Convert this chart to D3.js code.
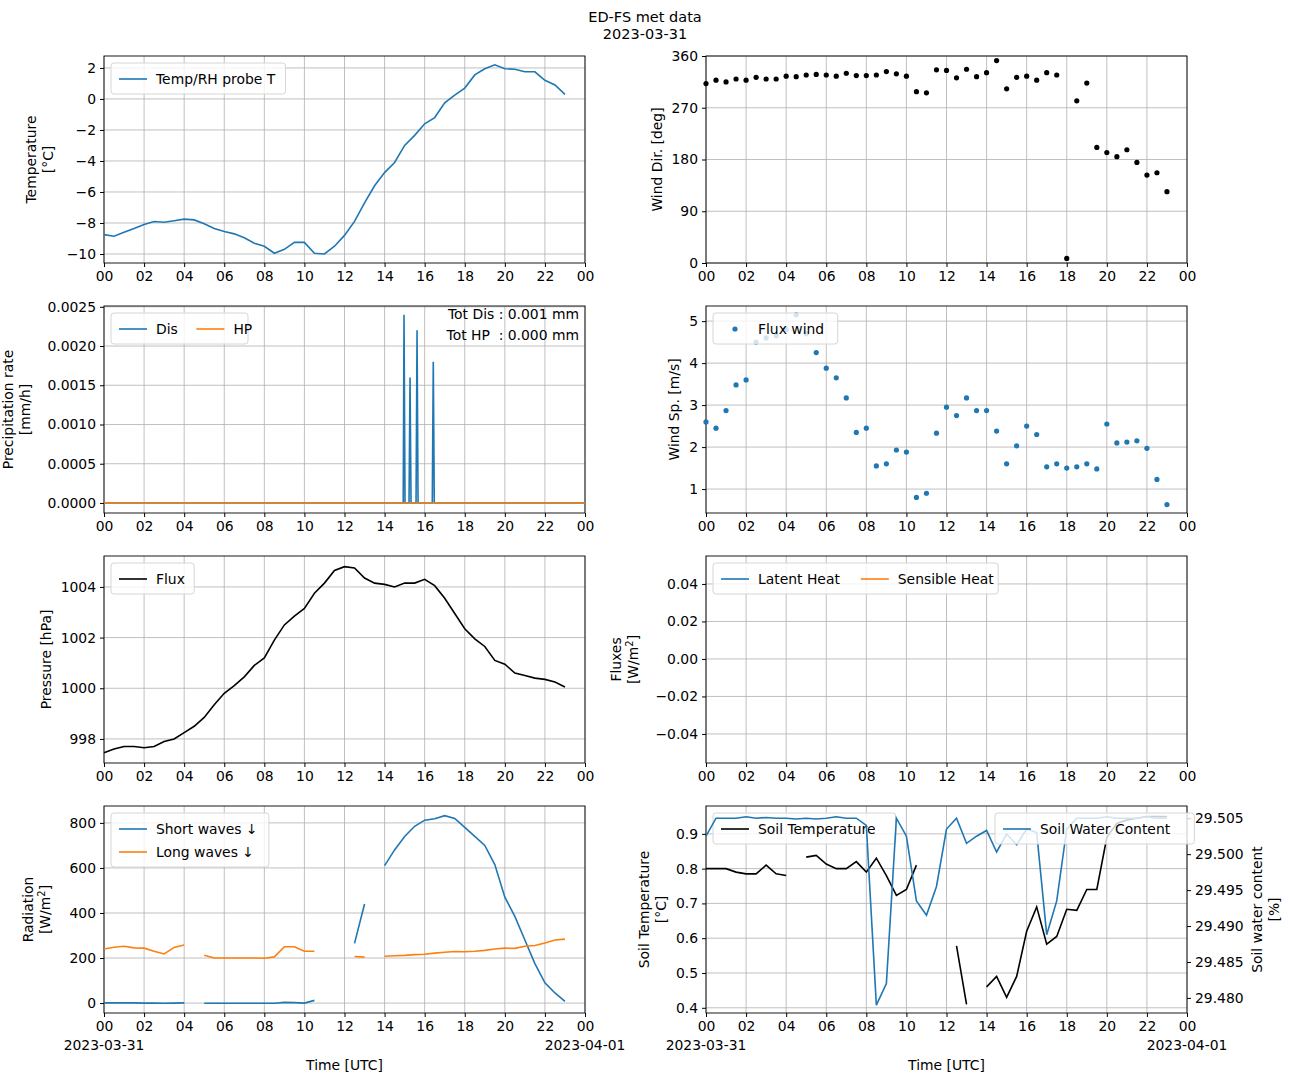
<!DOCTYPE html>
<html><head><meta charset="utf-8">
<script src="https://cdn.jsdelivr.net/npm/d3@7"></script>
<style>
body{margin:0;background:#fff;font-family:"DejaVu Sans",sans-serif;}
text{font-family:"DejaVu Sans",sans-serif;fill:#000;}
</style></head><body><div id="chart"></div>
<script>
// half-hourly times 0..23 h
const hours = d3.range(0, 23.01, 0.5);

const tempT = [-8.75,-8.85,-8.6,-8.35,-8.1,-7.9,-7.95,-7.85,-7.75,-7.8,-8.05,-8.35,-8.55,-8.7,-8.95,-9.3,-9.5,-9.95,-9.7,-9.25,-9.25,-9.95,-10.0,-9.5,-8.8,-7.9,-6.7,-5.6,-4.75,-4.1,-3.0,-2.35,-1.6,-1.2,-0.25,0.25,0.7,1.55,1.95,2.2,1.95,1.92,1.75,1.75,1.2,0.9,0.3];
const windDir = [312,318,315,320,318,323,320,320,325,324,327,328,327,325,330,326,326,327,333,329,325,298,296,336,335,322,337,324,331,352,303,323,325,318,331,327,8,282,313,201,192,185,197,175,153,157,124];
const windSp = [2.6,2.45,2.87,3.48,3.6,4.5,4.6,4.65,4.8,5.15,4.7,4.25,3.88,3.65,3.17,2.35,2.45,1.55,1.6,1.93,1.88,0.8,0.9,2.33,2.95,2.75,3.17,2.87,2.87,2.38,1.6,2.03,2.5,2.3,1.53,1.6,1.5,1.53,1.6,1.48,2.55,2.1,2.12,2.15,1.97,1.23,0.63];
const pressure = [997.45,997.6,997.7,997.7,997.65,997.7,997.9,998.0,998.25,998.5,998.85,999.35,999.8,1000.1,1000.45,1000.9,1001.2,1001.9,1002.5,1002.85,1003.15,1003.75,1004.15,1004.65,1004.8,1004.75,1004.35,1004.15,1004.1,1004.0,1004.15,1004.15,1004.3,1004.05,1003.55,1002.95,1002.35,1001.95,1001.65,1001.1,1000.95,1000.6,1000.5,1000.4,1000.35,1000.25,1000.05];
const shortWaves = [1,1,1,1,0,0,-1,0,1,null,-1,-1,-1,-1,-1,-1,-1,-1,3,2,0,12,null,null,null,265,440,null,610,680,740,785,812,818,832,820,780,740,700,615,470,385,280,175,90,45,8];
const longWaves = [240,248,252,245,244,230,218,247,258,null,212,200,200,200,200,200,199,205,250,250,230,230,null,null,null,207,204,null,208,210,212,215,217,222,226,229,228,230,234,240,244,243,252,256,267,280,284];
const soilTemp = [0.80,0.80,0.80,0.79,0.785,0.785,0.81,0.785,0.78,null,0.833,0.838,0.813,0.80,0.80,0.82,0.79,0.83,0.78,0.723,0.74,0.81,null,null,null,0.578,0.41,null,0.46,0.49,0.43,0.49,0.62,0.69,0.583,0.605,0.683,0.68,0.74,0.74,0.89,0.93,0.94,0.945,0.95,0.95,0.95];
const soilWater = [29.5025,29.505,29.505,29.505,29.5052,29.505,29.5051,29.505,29.505,29.5049,29.505,29.5049,29.505,29.5052,29.505,29.505,29.504,29.479,29.482,29.505,29.5025,29.4935,29.4915,29.4955,29.5035,29.505,29.5015,29.5025,29.5033,29.5003,29.5028,29.5013,29.5035,29.503,29.4888,29.4935,29.5035,29.505,29.505,29.505,29.5052,29.505,29.505,29.505,29.5052,29.505,29.505];
// precipitation (disdrometer) spikes, sparse times
const disTimes = [0,14.93,14.97,15.02,15.22,15.27,15.32,15.57,15.62,15.67,16.38,16.43,16.48,24];
const disRate  = [0,0,0.0024,0,0,0.0016,0,0,0.0022,0,0,0.0018,0,0];
const hpTimes = [0,24];
const hpRate = [0,0];

const blue = '#1f77b4', orange = '#ff7f0e';
const FS = '13.9px';
const W = 1289, H = 1083;
const svg = d3.select('#chart').append('svg').attr('width', W).attr('height', H);

svg.append('text').attr('x', 645).attr('y', 22).attr('text-anchor', 'middle').style('font-size', '14.5px').text('ED-FS met data');
svg.append('text').attr('x', 645).attr('y', 39).attr('text-anchor', 'middle').style('font-size', '14.5px').text('2023-03-31');

const colX = [104, 706], pw = 481, ph = 207;
const rowY = [56, 306, 556, 806];

function panel(col, row, domain, ticks, fmt, ylabel, opts = {}) {
  const x0 = colX[col], y0 = rowY[row];
  const g = svg.append('g').attr('transform', `translate(${x0},${y0})`);
  const x = d3.scaleLinear().domain([0, 24]).range([0, pw]);
  const y = d3.scaleLinear().domain(domain).range([ph, 0]);
  const xt = d3.range(0, 24.1, 2);
  g.selectAll('.gx').data(xt).join('line').attr('x1', d => x(d)).attr('x2', d => x(d)).attr('y1', 0).attr('y2', ph).attr('stroke', '#b0b0b0').attr('stroke-width', 0.8);
  g.selectAll('.gy').data(ticks).join('line').attr('x1', 0).attr('x2', pw).attr('y1', d => y(d)).attr('y2', d => y(d)).attr('stroke', '#b0b0b0').attr('stroke-width', 0.8);
  const ax = g.append('g').attr('transform', `translate(0,${ph})`)
    .call(d3.axisBottom(x).tickValues(xt).tickSize(4).tickPadding(4).tickFormat(d => d3.format('02d')(d % 24)));
  const ay = g.append('g').call(d3.axisLeft(y).tickValues(ticks).tickSize(4).tickPadding(4).tickFormat(d => fmt(d).replace('-', '\u2212')));
  [ax, ay].forEach(a => { a.select('.domain').remove(); a.selectAll('text').style('font-size', FS); a.selectAll('line').attr('stroke', '#000'); });
  g.append('rect').attr('width', pw).attr('height', ph).attr('fill', 'none').attr('stroke', '#000').attr('stroke-width', 0.9);
  const lines = Array.isArray(ylabel) ? ylabel : [ylabel];
  const lab = g.append('text').attr('transform', `translate(${opts.labelX || -60},${ph / 2}) rotate(-90)`).attr('text-anchor', 'middle').style('font-size', FS);
  lines.forEach((l, i) => lab.append('tspan').attr('x', 0).attr('dy', i === 0 ? (lines.length > 1 ? '-0.35em' : '0.35em') : '1.2em').html(l));
  if (row === 3) {
    g.append('text').attr('x', 0).attr('y', ph + 37).attr('text-anchor', 'middle').style('font-size', FS).text('2023-03-31');
    g.append('text').attr('x', pw).attr('y', ph + 37).attr('text-anchor', 'middle').style('font-size', FS).text('2023-04-01');
    g.append('text').attr('x', pw / 2).attr('y', ph + 57).attr('text-anchor', 'middle').style('font-size', FS).text('Time [UTC]');
  }
  return { g, x, y };
}

function drawLine(p, xs, ys, color) {
  const data = xs.map((t, i) => [t, ys[i]]);
  p.g.append('path').datum(data)
    .attr('d', d3.line().defined(d => d[1] != null).x(d => p.x(d[0])).y(d => p.y(d[1])))
    .attr('fill', 'none').attr('stroke', color).attr('stroke-width', 1.6);
}
function drawDots(p, xs, ys, color) {
  p.g.selectAll(null).data(xs.map((t, i) => [t, ys[i]])).join('circle')
    .attr('cx', d => p.x(d[0])).attr('cy', d => p.y(d[1])).attr('r', 2.6).attr('fill', color);
}
function legend(p, items, x, y, cols, marker) {
  const tw = s => s.length * 8.3;
  const colW = items.map(it => 54 + s2(it[0]));
  function s2(s) { return s.length * 7.8; }
  const w = cols > 1 ? d3.sum(colW) - 10 : 50 + d3.max(items, it => tw(it[0]));
  const rows = Math.ceil(items.length / cols);
  const h = 8 + rows * 23;
  const lg = p.g.append('g').attr('transform', `translate(${x},${y})`);
  lg.append('rect').attr('width', w).attr('height', h).attr('rx', 3).attr('fill', 'rgba(255,255,255,0.8)').attr('stroke', '#d6d6d6');
  items.forEach((it, i) => {
    const c = cols > 1 ? i : 0, r = cols > 1 ? 0 : i;
    const ox = 8 + d3.sum(colW.slice(0, c)), oy = 16 + r * 23;
    if (marker === 'dot') lg.append('circle').attr('cx', ox + 14).attr('cy', oy).attr('r', 2.6).attr('fill', it[1]);
    else lg.append('line').attr('x1', ox).attr('x2', ox + 28).attr('y1', oy).attr('y2', oy).attr('stroke', it[1]).attr('stroke-width', 1.6);
    lg.append('text').attr('x', ox + 37).attr('y', oy + 5).style('font-size', FS).text(it[0]);
  });
}

// Temperature
let p = panel(0, 0, [-10.58, 2.77], d3.range(-10, 2.1, 2), d3.format('d'), ['Temperature', '[°C]'], { labelX: -63 });
drawLine(p, hours, tempT, blue);
legend(p, [['Temp/RH probe T', blue]], 7, 7, 1);

// Wind dir
p = panel(1, 0, [0, 360], [0, 90, 180, 270, 360], d3.format('d'), 'Wind Dir. [deg]', { labelX: -49 });
drawDots(p, hours, windDir, '#000');

// Precip
p = panel(0, 1, [-0.000128, 0.00251], d3.range(0, 0.00251, 0.0005), d3.format('.4f'), ['Precipitation rate', '[mm/h]'], { labelX: -86 });
drawLine(p, disTimes, disRate, blue);
drawLine(p, hpTimes, hpRate, orange);
legend(p, [['Dis', blue], ['HP', orange]], 7, 7, 2);
p.g.append('text').attr('x', pw - 6).attr('y', 13).attr('text-anchor', 'end').style('font-size', FS).text('Tot Dis : 0.001 mm');
p.g.append('text').attr('x', pw - 6).attr('y', 34).attr('text-anchor', 'end').style('font-size', FS).text('Tot HP \u00a0: 0.000 mm');

// Wind speed
p = panel(1, 1, [0.43, 5.36], [1, 2, 3, 4, 5], d3.format('d'), 'Wind Sp. [m/s]', { labelX: -32 });
drawDots(p, hours, windSp, blue);
legend(p, [['Flux wind', blue]], 7, 7, 1, 'dot');

// Pressure
p = panel(0, 2, [997.05, 1005.22], [998, 1000, 1002, 1004], d3.format('d'), 'Pressure [hPa]', { labelX: -58 });
drawLine(p, hours, pressure, '#000');
legend(p, [['Flux', '#000']], 7, 7, 1);

// Fluxes (no data)
p = panel(1, 2, [-0.0555, 0.0549], [-0.04, -0.02, 0, 0.02, 0.04], d3.format('.2f'), ['Fluxes', '[W/m<tspan dy="-5" font-size="10">2</tspan><tspan dy="5">]</tspan>'], { labelX: -80 });
legend(p, [['Latent Heat', blue], ['Sensible Heat', orange]], 7, 7, 2);

// Radiation
p = panel(0, 3, [-44, 875], [0, 200, 400, 600, 800], d3.format('d'), ['Radiation', '[W/m<tspan dy="-5" font-size="10">2</tspan><tspan dy="5">]</tspan>'], { labelX: -66 });
drawLine(p, hours, shortWaves, blue);
drawLine(p, hours, longWaves, orange);
legend(p, [['Short waves \u2193', blue], ['Long waves \u2193', orange]], 7, 7, 1);

// Soil
p = panel(1, 3, [0.385, 0.98], [0.4, 0.5, 0.6, 0.7, 0.8, 0.9], d3.format('.1f'), ['Soil Temperature', '[°C]'], { labelX: -52 });
const y2 = d3.scaleLinear().domain([29.4779, 29.5067]).range([ph, 0]);
const ay2 = p.g.append('g').attr('transform', `translate(${pw},0)`)
  .call(d3.axisRight(y2).tickValues(d3.range(29.48, 29.5051, 0.005)).tickSize(4).tickPadding(4).tickFormat(d3.format('.3f')));
ay2.select('.domain').remove(); ay2.selectAll('text').style('font-size', FS);
const rl = p.g.append('text').attr('transform', `translate(${pw + 80},${ph / 2}) rotate(-90)`).attr('text-anchor', 'middle').style('font-size', FS);
rl.append('tspan').attr('x', 0).attr('dy', '-0.35em').text('Soil water content');
rl.append('tspan').attr('x', 0).attr('dy', '1.2em').text('[%]');
drawLine(p, hours, soilTemp, '#000');
legend(p, [['Soil Temperature', '#000']], 7, 7, 1);
drawLine({ g: p.g, x: p.x, y: y2 }, hours, soilWater, blue);
legend(p, [['Soil Water Content', blue]], 289, 7, 1);
</script></body></html>
